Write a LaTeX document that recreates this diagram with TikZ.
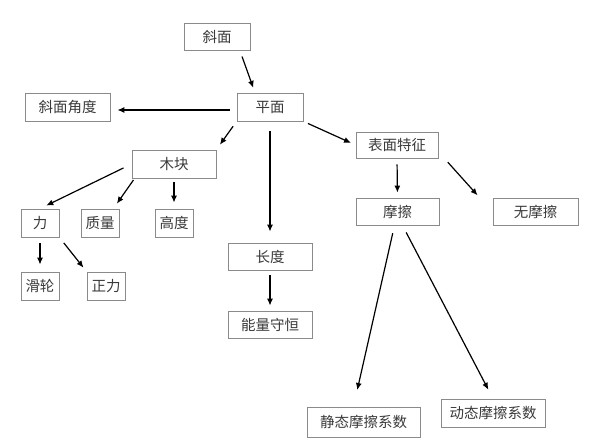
\documentclass[tikz,border=0pt]{standalone}
\usepackage{fontspec}
\setmainfont{Noto Sans CJK SC}
\usetikzlibrary{arrows.meta}
\definecolor{boxline}{HTML}{8A8A8A}
\definecolor{txt}{HTML}{3A3A3A}
\begin{document}
\begin{tikzpicture}[x=1pt,y=-1pt,
  box/.style={draw=boxline,line width=0.8pt,text=txt,inner sep=0pt,
    minimum height=27pt,font=\fontsize{14.5}{16}\selectfont},
  arr/.style={draw=black,line width=1.2pt,-{Latex[length=7pt,width=6pt]}}]
\useasboundingbox[fill=white] (0,0) rectangle (590,444);
\node[box,minimum width=66pt] (xm) at (217,37) {斜面};
\node[box,minimum width=66pt,minimum height=28pt] (pm) at (270,107) {平面};
\node[box,minimum width=85pt,minimum height=28pt] (jd) at (67.5,107) {斜面角度};
\node[box,minimum width=84pt,minimum height=28pt] (mk) at (174,164) {木块};
\node[box,minimum width=38pt,minimum height=28pt] (li) at (40,223) {力};
\node[box,minimum width=38pt,minimum height=28pt] (zl) at (100,223) {质量};
\node[box,minimum width=38pt,minimum height=28pt] (gd) at (174,223) {高度};
\node[box,minimum width=38pt,minimum height=28pt] (hl) at (40,286) {滑轮};
\node[box,minimum width=38pt,minimum height=28pt] (zli) at (106,286) {正力};
\node[box,minimum width=84pt] (cd) at (270,256.5) {长度};
\node[box,minimum width=84pt] (nl) at (270,324.5) {能量守恒};
\node[box,minimum width=82pt,minimum height=26pt] (bm) at (397,145) {表面特征};
\node[box,minimum width=83pt] (mc) at (397.5,211.5) {摩擦};
\node[box,minimum width=85pt] (wmc) at (535.5,211.5) {无摩擦};
\node[box,minimum width=113pt,minimum height=30pt] (jt) at (363.5,422) {静态摩擦系数};
\node[box,minimum width=104pt,minimum height=28pt] (dt) at (493,413) {动态摩擦系数};
\draw[arr,shorten <=6pt,shorten >=5pt] ([xshift=23pt]xm.south) -- ([xshift=-15pt]pm.north);
\draw[arr,shorten <=7pt,shorten >=7pt] ([yshift=-3pt]pm.west) -- ([yshift=-3pt]jd.east);
\draw[arr,shorten <=6pt,shorten >=6pt] (pm.south west) -- (mk.north east);
\draw[arr,shorten <=10pt,shorten >=11pt] (pm.south) -- (cd.north);
\draw[arr,shorten <=5pt,shorten >=5pt] (pm.south east) -- (bm.west);
\draw[arr,shorten <=9pt,shorten >=7pt] (mk.west) -- (li.north);
\draw[arr,shorten <=2pt,shorten >=6pt] ([xshift=3pt]mk.south west) -- ([xshift=-6pt]zl.north east);
\draw[arr,shorten <=4pt,shorten >=6pt] (mk.south) -- (gd.north);
\draw[arr,shorten <=6pt,shorten >=7pt] (li.south) -- (hl.north);
\draw[arr,shorten <=7pt,shorten >=5pt] (li.south east) -- (zli.north west);
\draw[arr,shorten <=5pt,shorten >=5pt] (cd.south) -- (nl.north);
\draw[arr,shorten <=6pt,shorten >=5pt] (bm.south) -- (mc.north);
\draw[arr,shorten <=5pt,shorten >=3pt] ([xshift=6pt]bm.south east) -- ([xshift=-13pt]wmc.north west);
\draw[arr,shorten <=8pt,shorten >=17pt] ([xshift=-3pt]mc.south) -- ([xshift=-10pt]jt.north);
\draw[arr,shorten <=8pt,shorten >=10pt] ([xshift=5pt]mc.south) -- (dt.north);
\end{tikzpicture}
\end{document}
